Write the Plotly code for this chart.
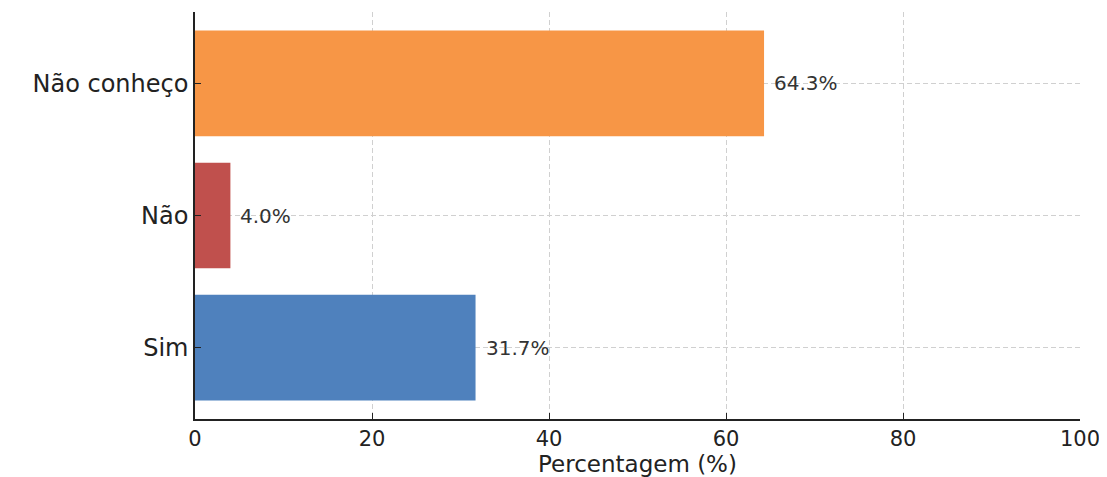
import plotly.graph_objects as go

categories = ["Sim", "Não", "Não conheço"]
values = [31.7, 4.0, 64.3]
colors = ["#4F81BD", "#C0504D", "#F79646"]
labels = ["31.7%", "4.0%", "64.3%"]
x_ticks = [0, 20, 40, 60, 80, 100]

fig = go.Figure()
fig.add_trace(go.Bar(
    y=categories, x=values, orientation="h",
    marker=dict(color=colors, line=dict(width=0)),
    width=0.8, showlegend=False,
))
for c, v, t in zip(categories, values, labels):
    fig.add_annotation(x=v + 0.9, y=c, text=t, showarrow=False, xanchor="left",
                       yanchor="middle", font=dict(family="DejaVu Sans", size=20, color="#333333"))

# page body has an 8px margin: compensate so the plot area lands at the right pixels
fig.update_layout(
    width=1099, height=469,
    margin=dict(l=187, r=27, t=4, b=58),
    paper_bgcolor="white", plot_bgcolor="white",
    font=dict(family="DejaVu Sans", color="#222222"),
    bargap=0.2,
)
fig.update_xaxes(
    range=[0, 100], tickvals=x_ticks, ticks="inside", ticklen=6, tickwidth=1.3, tickcolor="#222",
    showline=True, linecolor="#222", linewidth=1.5, automargin=False,
    showgrid=True, gridcolor="#d0d0d0", griddash="5px,3px", gridwidth=1, zeroline=False,
    tickfont=dict(size=21, color="#222"),
    title=dict(text="Percentagem (%)", font=dict(size=23, color="#222"), standoff=2),
)
fig.update_yaxes(
    range=[-0.54, 2.54], categoryorder="array", categoryarray=categories,
    ticks="inside", ticklen=6, tickwidth=1.3, tickcolor="#222", automargin=False,
    showline=True, linecolor="#222", linewidth=1.5,
    showgrid=True, gridcolor="#d0d0d0", griddash="5px,3px", gridwidth=1, zeroline=False,
    tickfont=dict(size=24, color="#222"),
)
fig.write_html("out.html")
